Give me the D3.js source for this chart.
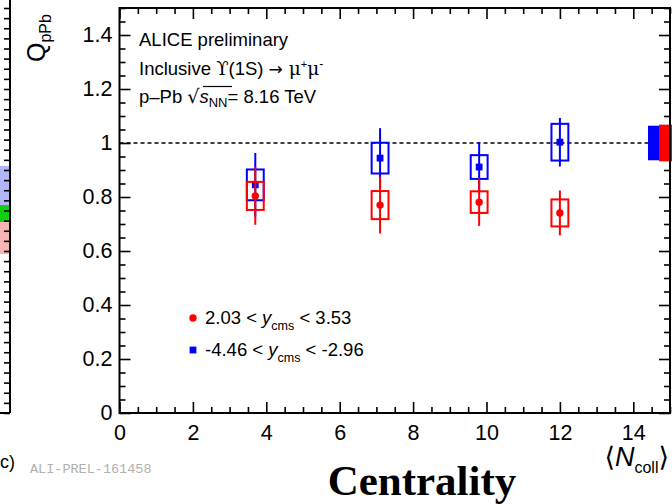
<!DOCTYPE html>
<html>
<head>
<meta charset="utf-8">
<script src="https://cdn.jsdelivr.net/npm/d3@7"></script>
<style>
  html, body { margin: 0; padding: 0; background: #fff; }
  svg { display: block; }
</style>
</head>
<body>
<svg id="chart" width="672" height="504" font-family="Liberation Sans, Arial, Helvetica, sans-serif"></svg>
<script>
// Upsilon(1S) nuclear modification factor Q_pPb versus <N_coll>
const ncoll = [3.7, 7.1, 9.8, 12.0];

// forward rapidity, 2.03 < y_cms < 3.53
const fwdQ    = [0.804, 0.770, 0.781, 0.741];
const fwdStat = [0.107, 0.105, 0.088, 0.083];
const fwdSyst = [0.052, 0.052, 0.040, 0.050];

// backward rapidity, -4.46 < y_cms < -2.96
const bwdQ    = [0.845, 0.944, 0.911, 1.003];
const bwdStat = [0.118, 0.111, 0.093, 0.090];
const bwdSyst = [0.057, 0.057, 0.044, 0.068];

// correlated (global) uncertainties drawn around unity
const globalUnc = [0.064, 0.068];          // backward, forward
const globalX   = [[14.4, 14.7], [14.7, 15.1]];

const xTicksMajor = [0, 2, 4, 6, 8, 10, 12, 14];
const yTicksMajor = [0, 0.2, 0.4, 0.6, 0.8, 1, 1.2, 1.4];
const yTickLabels = ["0", "0.2", "0.4", "0.6", "0.8", "1", "1.2", "1.4"];

// neighbouring panel (only its right edge is visible)
const sideBandsLo  = [1.027, 0.943, 0.785];
const sideBandsHi  = [1.220, 1.027, 0.943];
const sideBandCols = ["#b4b4f8", "#10d010", "#f8b4b4"];

const RED = "#ff0000", BLUE = "#0000ff";
const SANS = "Liberation Sans, Arial, Helvetica, sans-serif";
const svg = d3.select("#chart");

const L = 119.5, R = 670, T = 8, B = 413;
const x = d3.scaleLinear().domain([0, 15]).range([L, R]);
const y = d3.scaleLinear().domain([0, 1.5]).range([B, T]);
const boxHalf = 0.23;

// ---- neighbouring panel fragment ----
const ys = d3.scaleLinear().domain([0, 2]).range([B, T]);
const side = svg.append("g");
side.selectAll("rect").data(sideBandsLo).join("rect")
  .attr("x", 0).attr("width", 10)
  .attr("y", (d, i) => ys(sideBandsHi[i]))
  .attr("height", (d, i) => ys(d) - ys(sideBandsHi[i]))
  .attr("fill", (d, i) => sideBandCols[i]);
side.append("g").attr("transform", "translate(10,0)")
  .call(d3.axisLeft(ys).tickValues(d3.range(0, 2.001, 0.05)).tickSize(6).tickFormat(""))
  .call(g => g.select(".domain").remove())
  .call(g => g.selectAll("line").attr("stroke", "#000").attr("stroke-width", 1.6));
side.append("line").attr("x1", 10).attr("x2", 10).attr("y1", 0).attr("y2", B)
  .attr("stroke", "#000").attr("stroke-width", 2);
side.append("line").attr("x1", 0).attr("x2", 10).attr("y1", B).attr("y2", B)
  .attr("stroke", "#000").attr("stroke-width", 2);
svg.append("text").attr("x", 0).attr("y", 468).attr("font-size", 18).text("c)");

// ---- axes: ticks inward on all four sides ----
function styleAxis(g) {
  g.select(".domain").remove();
  g.selectAll("line").attr("stroke", "#000").attr("stroke-width", 1.6);
  g.selectAll("text").attr("font-family", SANS).attr("fill", "#000");
}
const xMinor = d3.range(0, 15.001, 0.5).filter(v => v % 2 !== 0);
const yMinor = d3.range(0, 1.5001, 0.05).filter(v => Math.abs(v / 0.2 - Math.round(v / 0.2)) > 1e-6);

// bottom
svg.append("g").attr("transform", `translate(0,${B})`)
  .call(d3.axisBottom(x).tickValues(xTicksMajor).tickSize(-11).tickPadding(12).tickFormat(d3.format("d")))
  .call(styleAxis)
  .call(g => g.selectAll("text").attr("font-size", 21.5));
svg.append("g").attr("transform", `translate(0,${B})`)
  .call(d3.axisBottom(x).tickValues(xMinor).tickSize(-6).tickFormat(""))
  .call(styleAxis);
// top
svg.append("g").attr("transform", `translate(0,${T})`)
  .call(d3.axisTop(x).tickValues(xTicksMajor).tickSize(-11).tickFormat(""))
  .call(styleAxis);
svg.append("g").attr("transform", `translate(0,${T})`)
  .call(d3.axisTop(x).tickValues(xMinor).tickSize(-6).tickFormat(""))
  .call(styleAxis);
// left
svg.append("g").attr("transform", `translate(${L},0)`)
  .call(d3.axisLeft(y).tickValues(yTicksMajor).tickSize(-11).tickPadding(7)
        .tickFormat((d, i) => yTickLabels[i]))
  .call(styleAxis)
  .call(g => g.selectAll("text").attr("font-size", 21.5));
svg.append("g").attr("transform", `translate(${L},0)`)
  .call(d3.axisLeft(y).tickValues(yMinor).tickSize(-6).tickFormat(""))
  .call(styleAxis);
// right
svg.append("g").attr("transform", `translate(${R},0)`)
  .call(d3.axisRight(y).tickValues(yTicksMajor).tickSize(-11).tickFormat(""))
  .call(styleAxis);
svg.append("g").attr("transform", `translate(${R},0)`)
  .call(d3.axisRight(y).tickValues(yMinor).tickSize(-6).tickFormat(""))
  .call(styleAxis);

// unity reference line
svg.append("line")
  .attr("x1", x(0)).attr("x2", x(globalX[0][0]))
  .attr("y1", y(1)).attr("y2", y(1))
  .attr("stroke", "#000").attr("stroke-width", 1.6).attr("stroke-dasharray", "4,3");

// ---- data series ----
function drawSeries(vals, stat, syst, color, isCircle) {
  const g = svg.append("g");
  const pts = ncoll.map((n, i) => ({ n, v: vals[i], s: stat[i], e: syst[i] }));
  g.selectAll("rect.syst").data(pts).join("rect")
    .attr("class", "syst")
    .attr("x", d => x(d.n - boxHalf)).attr("width", d => x(d.n + boxHalf) - x(d.n - boxHalf))
    .attr("y", d => y(d.v + d.e)).attr("height", d => y(d.v - d.e) - y(d.v + d.e))
    .attr("fill", "none").attr("stroke", color).attr("stroke-width", 2);
  g.selectAll("line.stat").data(pts).join("line")
    .attr("class", "stat")
    .attr("x1", d => x(d.n)).attr("x2", d => x(d.n))
    .attr("y1", d => y(d.v + d.s)).attr("y2", d => y(d.v - d.s))
    .attr("stroke", color).attr("stroke-width", 2);
  if (isCircle) {
    g.selectAll("circle").data(pts).join("circle")
      .attr("cx", d => x(d.n)).attr("cy", d => y(d.v)).attr("r", 3.7).attr("fill", color);
  } else {
    g.selectAll("rect.mk").data(pts).join("rect")
      .attr("class", "mk")
      .attr("x", d => x(d.n) - 3.4).attr("y", d => y(d.v) - 3.4)
      .attr("width", 6.8).attr("height", 6.8).attr("fill", color);
  }
}
drawSeries(bwdQ, bwdStat, bwdSyst, BLUE, false);
drawSeries(fwdQ, fwdStat, fwdSyst, RED, true);

// global uncertainty boxes at unity
svg.append("g").selectAll("rect").data(globalUnc).join("rect")
  .attr("x", (d, i) => x(globalX[i][0]))
  .attr("width", (d, i) => x(globalX[i][1]) - x(globalX[i][0]))
  .attr("y", d => y(1 + d)).attr("height", d => y(1 - d) - y(1 + d))
  .attr("fill", (d, i) => i === 0 ? BLUE : RED);

// frame drawn on top
svg.append("rect").attr("x", L).attr("y", T).attr("width", R - L).attr("height", B - T)
  .attr("fill", "none").attr("stroke", "#000").attr("stroke-width", 2);

// ---- annotations ----
const info = svg.append("g").attr("font-size", 18.5).attr("fill", "#000");
info.append("text").attr("x", 139).attr("y", 46).text("ALICE preliminary");
const l2 = info.append("text").attr("x", 139).attr("y", 75);
l2.append("tspan").text("Inclusive ");
l2.append("tspan").attr("font-family", "DejaVu Serif, serif").attr("font-size", 18).text("\u03D2");
l2.append("tspan").text("(1S) ");
l2.append("tspan").attr("font-family", "DejaVu Sans, sans-serif").attr("font-size", 17).text("\u2192");
l2.append("tspan").attr("font-family", "DejaVu Serif, serif").text(" \u03BC");
l2.append("tspan").attr("font-size", 11).attr("dy", -7).text("+");
l2.append("tspan").attr("dy", 7).attr("font-family", "DejaVu Serif, serif").text("\u03BC");
l2.append("tspan").attr("font-size", 12).attr("dy", -7).text("-");
const l3 = info.append("text").attr("x", 139).attr("y", 103);
l3.append("tspan").text("p\u2013Pb ");
l3.append("tspan").attr("font-family", "DejaVu Sans, sans-serif").attr("font-size", 19).text("\u221A");
l3.append("tspan").attr("font-style", "italic").text("s");
l3.append("tspan").attr("font-size", 13).attr("dy", 4).text("NN");
l3.append("tspan").attr("dy", -4).text("= 8.16 TeV");
info.append("line").attr("x1", 203).attr("x2", 232).attr("y1", 86.5).attr("y2", 86.5)
  .attr("stroke", "#000").attr("stroke-width", 1.2);

// legend
const legendRows = [
  { lo: "2.03", hi: "3.53", color: RED, circle: true, yy: 318 },
  { lo: "-4.46", hi: "-2.96", color: BLUE, circle: false, yy: 350 }
];
const leg = svg.append("g");
legendRows.forEach(r => {
  if (r.circle) leg.append("circle").attr("cx", 193).attr("cy", r.yy).attr("r", 3.7).attr("fill", r.color);
  else leg.append("rect").attr("x", 189.6).attr("y", r.yy - 3.4).attr("width", 6.8).attr("height", 6.8).attr("fill", r.color);
  const t = leg.append("text").attr("x", 205).attr("y", r.yy + 6).attr("font-size", 18.5);
  t.append("tspan").text(r.lo + " < ");
  t.append("tspan").attr("font-style", "italic").text("y");
  t.append("tspan").attr("font-size", 12.5).attr("dy", 6).text("cms");
  t.append("tspan").attr("dy", -6).text("  < " + r.hi);
});

// axis titles
const yt = svg.append("text").attr("transform", "translate(45,62) rotate(-90)").attr("font-size", 25);
yt.append("tspan").text("Q");
yt.append("tspan").attr("font-size", 16).attr("dy", 6).text("pPb");

const xt = svg.append("text").attr("x", 669).attr("y", 466).attr("text-anchor", "end").attr("font-size", 27);
xt.append("tspan").attr("font-family", "DejaVu Sans, sans-serif").attr("font-size", 27).text("\u27E8");
xt.append("tspan").attr("font-style", "italic").text("N");
xt.append("tspan").attr("font-size", 16).attr("dy", 7).text("coll");
xt.append("tspan").attr("dy", -7).attr("font-family", "DejaVu Sans, sans-serif").attr("font-size", 27).text("\u27E9");

svg.append("text").attr("x", 30).attr("y", 473)
  .attr("font-family", "Liberation Mono, Courier New, monospace")
  .attr("font-size", 13.5).attr("fill", "#b0b0b0").text("ALI-PREL-161458");

svg.append("text").attr("x", 422).attr("y", 495).attr("text-anchor", "middle")
  .attr("font-family", "Liberation Serif, Times New Roman, serif")
  .attr("font-weight", "bold").attr("font-size", 43).text("Centrality");
</script>
</body>
</html>
